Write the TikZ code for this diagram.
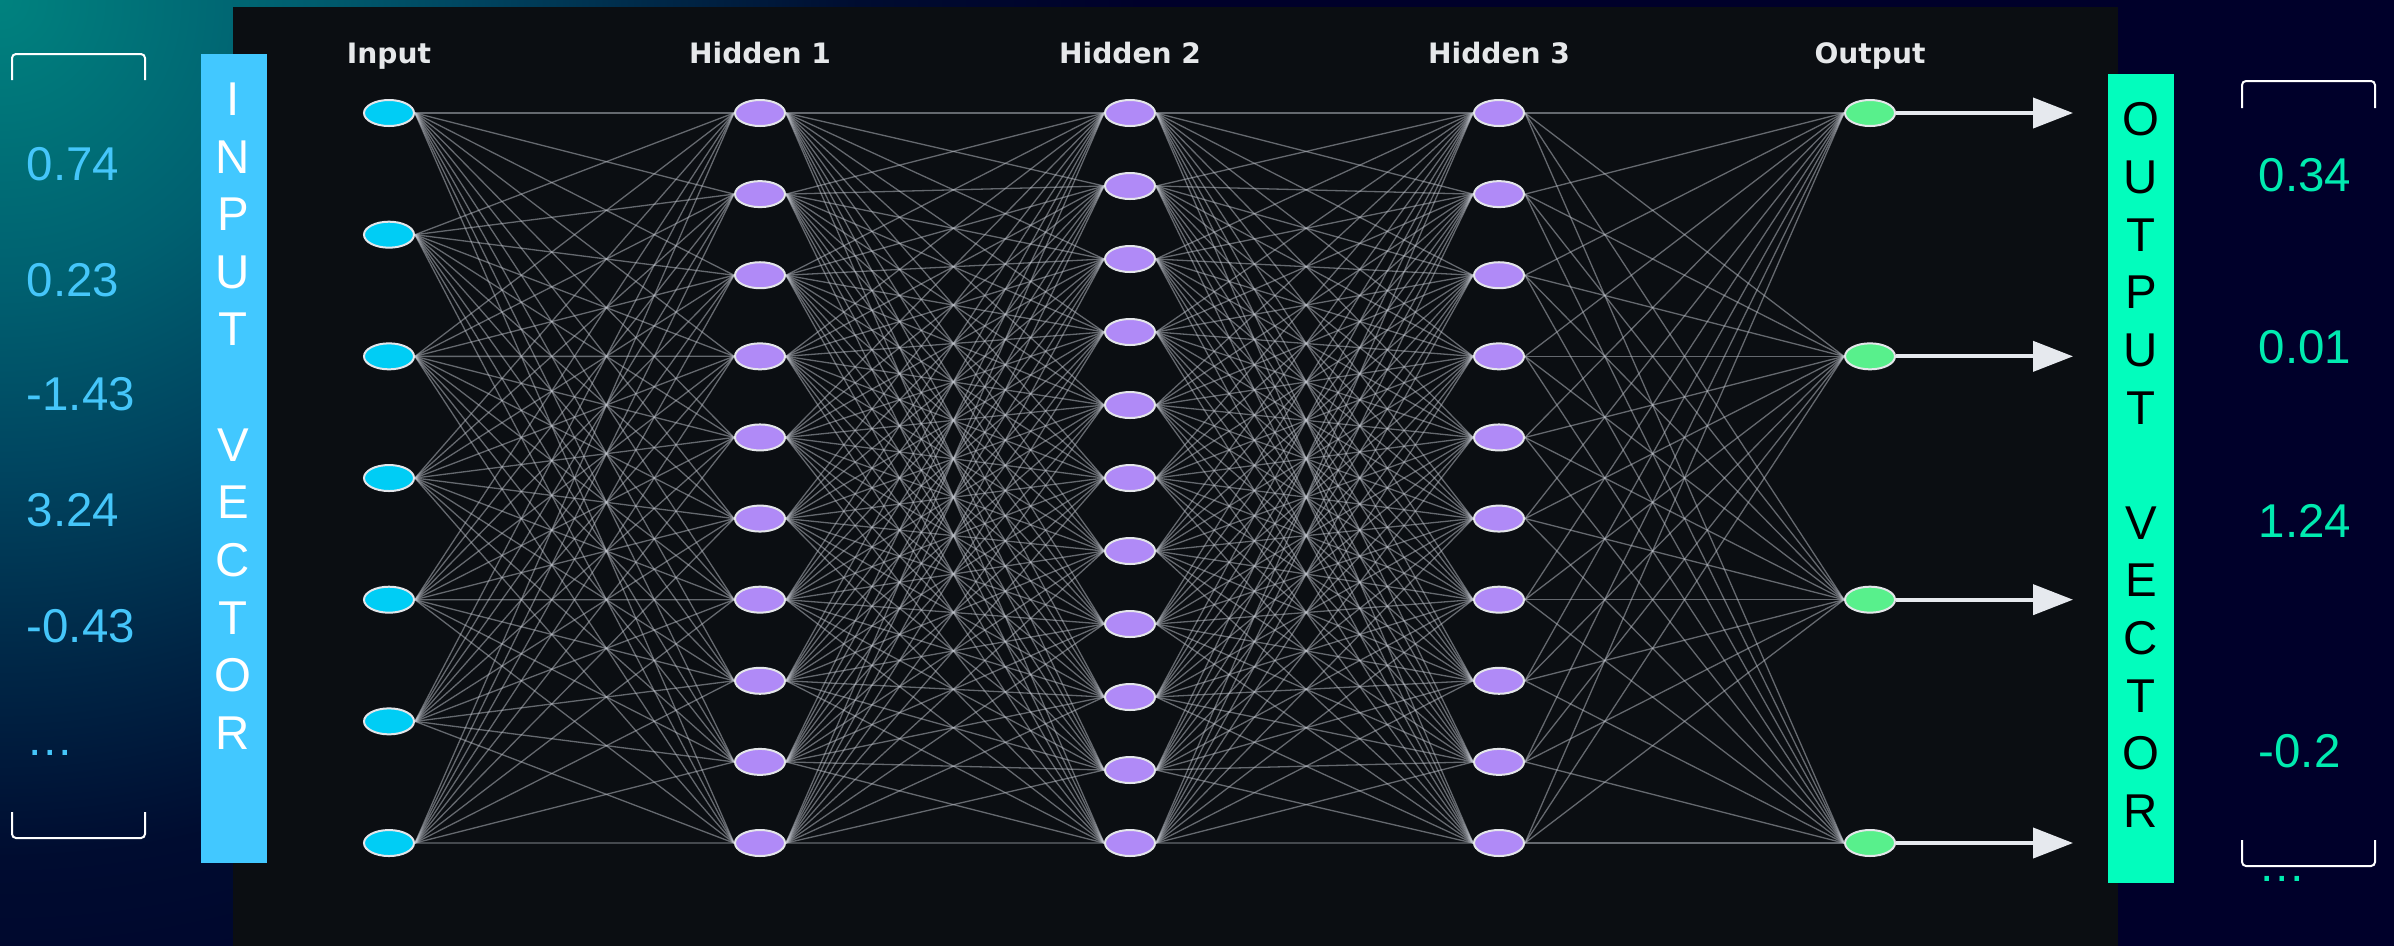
\documentclass[tikz,border=0pt]{standalone}
\usepackage{fontspec}
\setmainfont{Liberation Sans}
\newfontfamily\layerfont{DejaVu Sans}
\usetikzlibrary{shapes.geometric,arrows.meta}
\definecolor{navy}{HTML}{00002A}
\definecolor{glow0}{HTML}{00827F}
\definecolor{glow1}{HTML}{006070}
\definecolor{glow2}{HTML}{004560}
\definecolor{glow3}{HTML}{002545}
\definecolor{glow4}{HTML}{000C30}
\definecolor{panel}{HTML}{0B0E12}
\definecolor{rim}{HTML}{E4E6EA}
\definecolor{incol}{HTML}{00CDF5}
\definecolor{hidcol}{HTML}{B08AF7}
\definecolor{outcol}{HTML}{58F08C}
\definecolor{wirecol}{HTML}{C0C4CC}
\definecolor{labelcol}{HTML}{E6E8EA}
\definecolor{arrowcol}{HTML}{E6E9EE}
\definecolor{invec}{HTML}{42C8FF}
\definecolor{outvec}{HTML}{02FDBD}
\definecolor{invalcol}{HTML}{45C6FA}
\definecolor{outvalcol}{HTML}{00EBB0}
\pgfdeclareradialshading{tealglow}{\pgfpoint{0bp}{0bp}}{color(0bp)=(glow0); color(5.5bp)=(glow1); color(9bp)=(glow2); color(13bp)=(glow3); color(16.5bp)=(glow4); color(22bp)=(navy); color(50bp)=(navy)}
\pgfdeclarelayer{back}
\pgfdeclarelayer{wires}
\pgfsetlayers{back,wires,main}
\begin{document}
\begin{tikzpicture}[x=0.1mm, y=-0.1mm,
  neuron/.style={ellipse, draw=rim, line width=0.2mm, minimum width=5mm, minimum height=2.6mm, inner sep=0pt},
  inneuron/.style={neuron, fill=incol},
  hidneuron/.style={neuron, fill=hidcol},
  outneuron/.style={neuron, fill=outcol},
  wire/.style={draw=wirecol, line width=0.13mm, draw opacity=0.5},
  layerlabel/.style={font=\layerfont\bfseries\fontsize{8pt}{9pt}\selectfont, text=labelcol, anchor=base, inner sep=0pt},
  value/.style={font=\fontsize{13.5pt}{16pt}\selectfont, anchor=base west, inner sep=0pt},
  vecbox/.style={minimum width=6.6mm, minimum height=80.9mm, inner sep=0pt},
  vectext/.style={font=\fontsize{13.5pt}{16.4pt}\selectfont, align=center, anchor=north, inner sep=0pt},
  bracket/.style={draw=white, line width=0.2mm, rounded corners=0.4mm},
  outarrow/.style={draw=arrowcol, line width=0.4mm, -{Triangle[length=4mm, width=3mm]}}
]
\useasboundingbox (0,0) rectangle (2394,945);

\begin{pgfonlayer}{back}
  \fill[navy] (-10,-10) rectangle (2404,960);
  \begin{scope}
    \clip (-10,-10) rectangle (2404,960);
    \shade[shading=tealglow] (0,0) circle (1300);
  \end{scope}
  \fill[panel] (233,7) rectangle (2118,960);
\end{pgfonlayer}

% layers
\foreach \i in {1,...,7}
  \node[inneuron] (in\i) at (389,{113+(\i-1)*121.67}) {};
\foreach \i in {1,...,10}
  \node[hidneuron] (ha\i) at (760,{113+(\i-1)*81.11}) {};
\foreach \i in {1,...,11}
  \node[hidneuron] (hb\i) at (1130,{113+(\i-1)*73}) {};
\foreach \i in {1,...,10}
  \node[hidneuron] (hc\i) at (1499,{113+(\i-1)*81.11}) {};
\foreach \i in {1,...,4}
  \node[outneuron] (out\i) at (1870,{113+(\i-1)*243.33}) {};

\begin{pgfonlayer}{wires}
  \foreach \a in {1,...,7} \foreach \b in {1,...,10}
    \draw[wire] (in\a.east) -- (ha\b.west);
  \foreach \a in {1,...,10} \foreach \b in {1,...,11}
    \draw[wire] (ha\a.east) -- (hb\b.west);
  \foreach \a in {1,...,11} \foreach \b in {1,...,10}
    \draw[wire] (hb\a.east) -- (hc\b.west);
  \foreach \a in {1,...,10} \foreach \b in {1,...,4}
    \draw[wire] (hc\a.east) -- (out\b.west);
\end{pgfonlayer}

\foreach \i in {1,...,4} {
  \coordinate (tip\i) at (2073,{113+(\i-1)*243.33});
  \draw[outarrow] (out\i.east) -- (tip\i);
}

\node[layerlabel] (linput) at (389,63) {Input};
\node[layerlabel] (lhida) at (760,63) {Hidden 1};
\node[layerlabel] (lhidb) at (1130,63) {Hidden 2};
\node[layerlabel] (lhidc) at (1499,63) {Hidden 3};
\node[layerlabel] (loutput) at (1870,63) {Output};

% vectors
\node[vecbox, fill=invec] (inbox) at (234,458.5) {};
\node[vectext, text=white] (intext) at (233,82) {I\\N\\P\\U\\T\\[16.4pt]V\\E\\C\\T\\O\\R};
\node[vecbox, fill=outvec] (outbox) at (2141,478.5) {};
\node[vectext, text=black] (outtext) at (2141,102) {O\\U\\T\\P\\U\\T\\[16.4pt]V\\E\\C\\T\\O\\R};

\foreach \v/\y [count=\k] in {0.74/180, 0.23/296, -1.43/410, 3.24/526, -0.43/642, …/755}
  \node[value, text=invalcol] (lval\k) at (26,\y) {\v};
\foreach \v/\y [count=\k] in {0.34/191, 0.01/363, 1.24/537, -0.2/767, …/881}
  \node[value, text=outvalcol] (rval\k) at (2258,\y) {\v};

\draw[bracket] (12,80) -- (12,54) -- (145,54) -- (145,80);
\draw[bracket] (12,812) -- (12,838) -- (145,838) -- (145,812);
\draw[bracket] (2242,108) -- (2242,81) -- (2375,81) -- (2375,108);
\draw[bracket] (2242,840) -- (2242,866) -- (2375,866) -- (2375,840);
\end{tikzpicture}
\end{document}
